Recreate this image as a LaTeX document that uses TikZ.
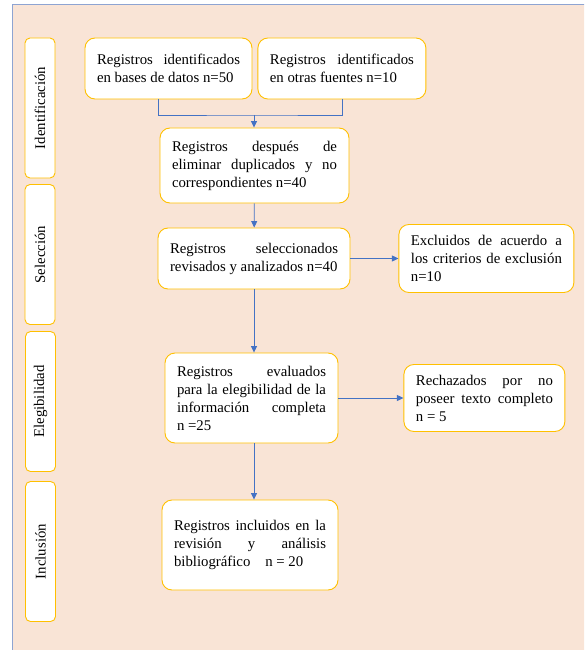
\documentclass[tikz,border=0pt]{standalone}
\usepackage{fontspec}
\setmainfont{Liberation Serif}
\usetikzlibrary{arrows.meta,positioning}
\definecolor{peach}{HTML}{F9E4D6}
\definecolor{frameblue}{HTML}{8EA4D2}
\definecolor{boxline}{HTML}{FFC000}
\definecolor{arrblue}{HTML}{4472C4}

\begin{document}
\begin{tikzpicture}[
  x=1pt, y=-1pt,
  node distance=5pt and 5pt,
  box/.style={draw=boxline, fill=white, rounded corners=10pt, align=justify, inner xsep=12pt, inner ysep=3pt, font=\fontsize{14.8}{18}\selectfont, line width=0.9pt},
  phase/.style={draw=boxline, fill=white, rounded corners=5pt, rotate=90, minimum width=140pt, minimum height=30pt, inner sep=0pt, font=\fontsize{14.8}{18}\selectfont, line width=0.9pt},
  arr/.style={-{Triangle[length=6.5pt, width=6pt]}, draw=arrblue, line width=0.8pt},
  link/.style={draw=arrblue, line width=0.8pt}
]
\path[use as bounding box] (0,0) rectangle (584,650);
\clip (0,0) rectangle (584,650);
\draw[frameblue, fill=peach, line width=1pt] (12,5) rectangle (600,670);

% phases
\node[phase] (fid) at (40,108) {Identificación};
\node[phase] (fsel) at (40,254.5) {Selección};
\node[phase] (feleg) at (40.5,401.5) {Elegibilidad};
\node[phase] (fincl) at (40.5,551.5) {Inclusión};

% records
\node[box, text width=143pt, minimum height=61pt] (id1) at (168.5,68.5) {Registros identificados\linebreak en bases de datos n=50};
\node[box, text width=144pt, minimum height=61pt, right=5pt of id1] (id2) {Registros identificados\linebreak en otras fuentes n=10};
\node[box, text width=165pt, minimum height=75pt] (dup) at (254.5,165.5) {Registros después de\linebreak eliminar duplicados y no\linebreak correspondientes n=40};
\node[box, text width=168pt, minimum height=61pt] (sel) at (254,258.5) {Registros seleccionados\linebreak revisados y analizados n=40};
\node[box, text width=151pt, minimum height=68pt, right=48pt of sel] (excl) {Excluidos de acuerdo a\linebreak los criterios de exclusión\linebreak n=10};
\node[box, text width=149pt, minimum height=90pt] (eleg) at (251.5,398) {Registros evaluados\linebreak para la elegibilidad de la\linebreak información completa\linebreak n =25};
\node[box, text width=137pt, minimum height=67pt, right=65pt of eleg] (rech) {Rechazados por no\linebreak poseer texto completo\linebreak n = 5};
\node[box, text width=152pt, minimum height=90pt] (incl) at (250,545) {Registros incluidos en la\linebreak revisión y análisis\linebreak bibliográfico\quad n = 20};

% connectors
\coordinate (join) at (254,115);
\draw[link] ([xshift=-10.5pt]id1.south) |- (join) -| (id2.south);
\draw[arr] (join) -- (join |- dup.north);
\draw[arr] (dup) -- (sel);
\draw[arr] (sel) -- (sel.south |- eleg.north);
\draw[arr] (sel.south |- eleg.south) -- (sel.south |- incl.north);
\draw[arr] (sel) -- (excl);
\draw[arr] (eleg.east) -- (eleg.east -| rech.west);
\end{tikzpicture}
\end{document}
